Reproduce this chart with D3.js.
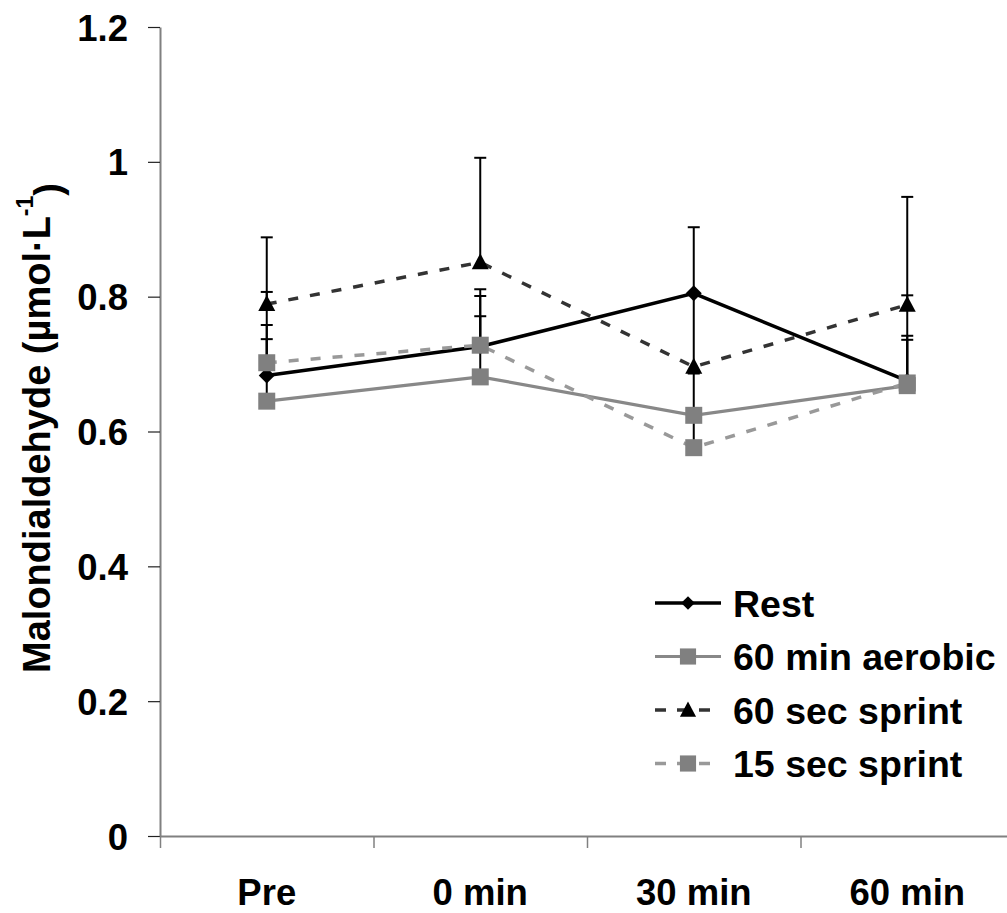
<!DOCTYPE html>
<html>
<head>
<meta charset="utf-8">
<script src="https://cdn.jsdelivr.net/npm/d3@7"></script>
<style>
  html, body { margin: 0; padding: 0; background: #fff; }
  svg text { font-family: "Liberation Sans", Arial, Helvetica, sans-serif; font-weight: bold; fill: #000; }
</style>
</head>
<body>
<svg id="chart" width="1007" height="913"></svg>
<script>
// ---- data ----
const categories = ["Pre", "0 min", "30 min", "60 min"];
const yTicks = [0, 0.2, 0.4, 0.6, 0.8, 1, 1.2];
const yTickLabels = ["0", "0.2", "0.4", "0.6", "0.8", "1", "1.2"];
const seriesNames = ["Rest", "60 min aerobic", "60 sec sprint", "15 sec sprint"];
const restValues     = [0.683, 0.726, 0.805, 0.675];
const aerobicValues  = [0.645, 0.681, 0.624, 0.668];
const sprint60Values = [0.789, 0.851, 0.696, 0.788];
const sprint15Values = [0.702, 0.728, 0.576, 0.672];
// upper end of the error bars (mean + SD)
const restUpper     = [0.758, 0.801, 0.903, 0.742];
const aerobicUpper  = [0.737, 0.771, 0.686, 0.736];
const sprint60Upper = [0.888, 1.006, 0.803, 0.948];
const sprint15Upper = [0.807, 0.811, 0.622, 0.802];

const series = [
  { name: seriesNames[0], values: restValues, upper: restUpper, color: "#000", width: 3.5, dash: null, marker: "diamond", mcolor: "#000" },
  { name: seriesNames[1], values: aerobicValues, upper: aerobicUpper, color: "#888", width: 3.2, dash: null, marker: "square", mcolor: "#808080" },
  { name: seriesNames[2], values: sprint60Values, upper: sprint60Upper, color: "#333", width: 3.5, dash: "10,12", marker: "triangle", mcolor: "#000" },
  { name: seriesNames[3], values: sprint15Values, upper: sprint15Upper, color: "#999", width: 3.5, dash: "10,12", marker: "square", mcolor: "#808080" }
];

const svg = d3.select("#chart");
const x0 = 160, x1 = 1014, yTop = 27, yBot = 836;

const x = d3.scaleBand().domain(categories).range([x0, x1]).paddingInner(0).paddingOuter(0);
const xb = d3.scaleLinear().domain([0, categories.length]).range([x0, x1]);
const y = d3.scaleLinear().domain([0, 1.2]).range([yBot, yTop]);
const cx = c => x(c) + x.bandwidth() / 2;

// ---- axes ----
const yAxis = d3.axisLeft(y).tickValues(yTicks).tickFormat((d, i) => yTickLabels[i])
  .tickSize(12).tickPadding(20).tickSizeOuter(0);
const gy = svg.append("g").attr("transform", `translate(${x0},0)`).call(yAxis);
gy.select(".domain").attr("stroke", "#808080").attr("stroke-width", 2);
gy.selectAll(".tick line").attr("stroke", "#222").attr("stroke-width", 1.2);
gy.selectAll(".tick text").style("font-size", "36.5px").attr("dy", "0.36em");

const xTickAxis = d3.axisBottom(xb).tickValues(d3.range(categories.length + 1)).tickFormat("")
  .tickSize(12).tickSizeOuter(0);
const gxt = svg.append("g").attr("transform", `translate(0,${yBot})`).call(xTickAxis);
gxt.select(".domain").attr("stroke", "#808080").attr("stroke-width", 2);
gxt.selectAll(".tick line").attr("stroke", "#808080").attr("stroke-width", 1.5);

const xLabelAxis = d3.axisBottom(x).tickSize(0).tickPadding(43);
const gxl = svg.append("g").attr("transform", `translate(0,${yBot})`).call(xLabelAxis);
gxl.select(".domain").remove();
gxl.selectAll(".tick text").style("font-size", "36.5px");

// y label
const yl = svg.append("text")
  .attr("transform", `translate(50,428) rotate(-90)`)
  .attr("text-anchor", "middle")
  .style("font-size", "38px");
yl.append("tspan").text("Malondialdehyde (µmol·L");
yl.append("tspan").attr("dy", "-0.75em").style("font-size", "23px").text("-1");
yl.append("tspan").attr("dy", "0.75em").text(")");

// ---- error bars ----
const eb = svg.append("g");
series.forEach(s => {
  categories.forEach((c, i) => {
    const xx = cx(c);
    eb.append("line").attr("x1", xx).attr("x2", xx)
      .attr("y1", y(s.values[i])).attr("y2", y(s.upper[i]))
      .attr("stroke", "#000").attr("stroke-width", 2);
    eb.append("line").attr("x1", xx - 6).attr("x2", xx + 6)
      .attr("y1", y(s.upper[i])).attr("y2", y(s.upper[i]))
      .attr("stroke", "#000").attr("stroke-width", 2);
  });
});

// ---- lines ----
const line = d3.line().x((d, i) => cx(categories[i])).y(d => y(d));
series.forEach(s => {
  svg.append("path").datum(s.values).attr("d", line)
    .attr("fill", "none").attr("stroke", s.color).attr("stroke-width", s.width)
    .attr("stroke-dasharray", s.dash);
});

// ---- markers ----
const symbolFor = m => {
  if (m === "diamond") return "M0,-8L8,0L0,8L-8,0Z";
  if (m === "triangle") return "M0,-9L8.5,7L-8.5,7Z";
  return "M-8.5,-8.5H8.5V8.5H-8.5Z";
};
series.forEach(s => {
  svg.append("g").selectAll("path").data(s.values).join("path")
    .attr("transform", (d, i) => `translate(${cx(categories[i])},${y(d)})`)
    .attr("d", symbolFor(s.marker))
    .attr("fill", s.mcolor);
});

// ---- legend ----
const lg = svg.append("g");
const legX1 = 655, legX2 = 721, legMid = 688, legText = 733;
const legY = [603, 656.5, 710, 763.5];
series.forEach((s, i) => {
  const yy = legY[i];
  lg.append("line").attr("x1", legX1).attr("x2", legX2).attr("y1", yy).attr("y2", yy)
    .attr("stroke", s.color).attr("stroke-width", s.width)
    .attr("stroke-dasharray", s.dash ? "11,11" : null);
  lg.append("path")
    .attr("d", symbolFor(s.marker)).attr("fill", s.mcolor)
    .attr("transform", `translate(${legMid},${yy}) scale(${s.marker === "diamond" ? 0.85 : 0.95})`);
  lg.append("text").attr("x", legText).attr("y", yy).attr("dy", "0.36em")
    .style("font-size", "37.5px").text(s.name);
});
</script>
</body>
</html>
